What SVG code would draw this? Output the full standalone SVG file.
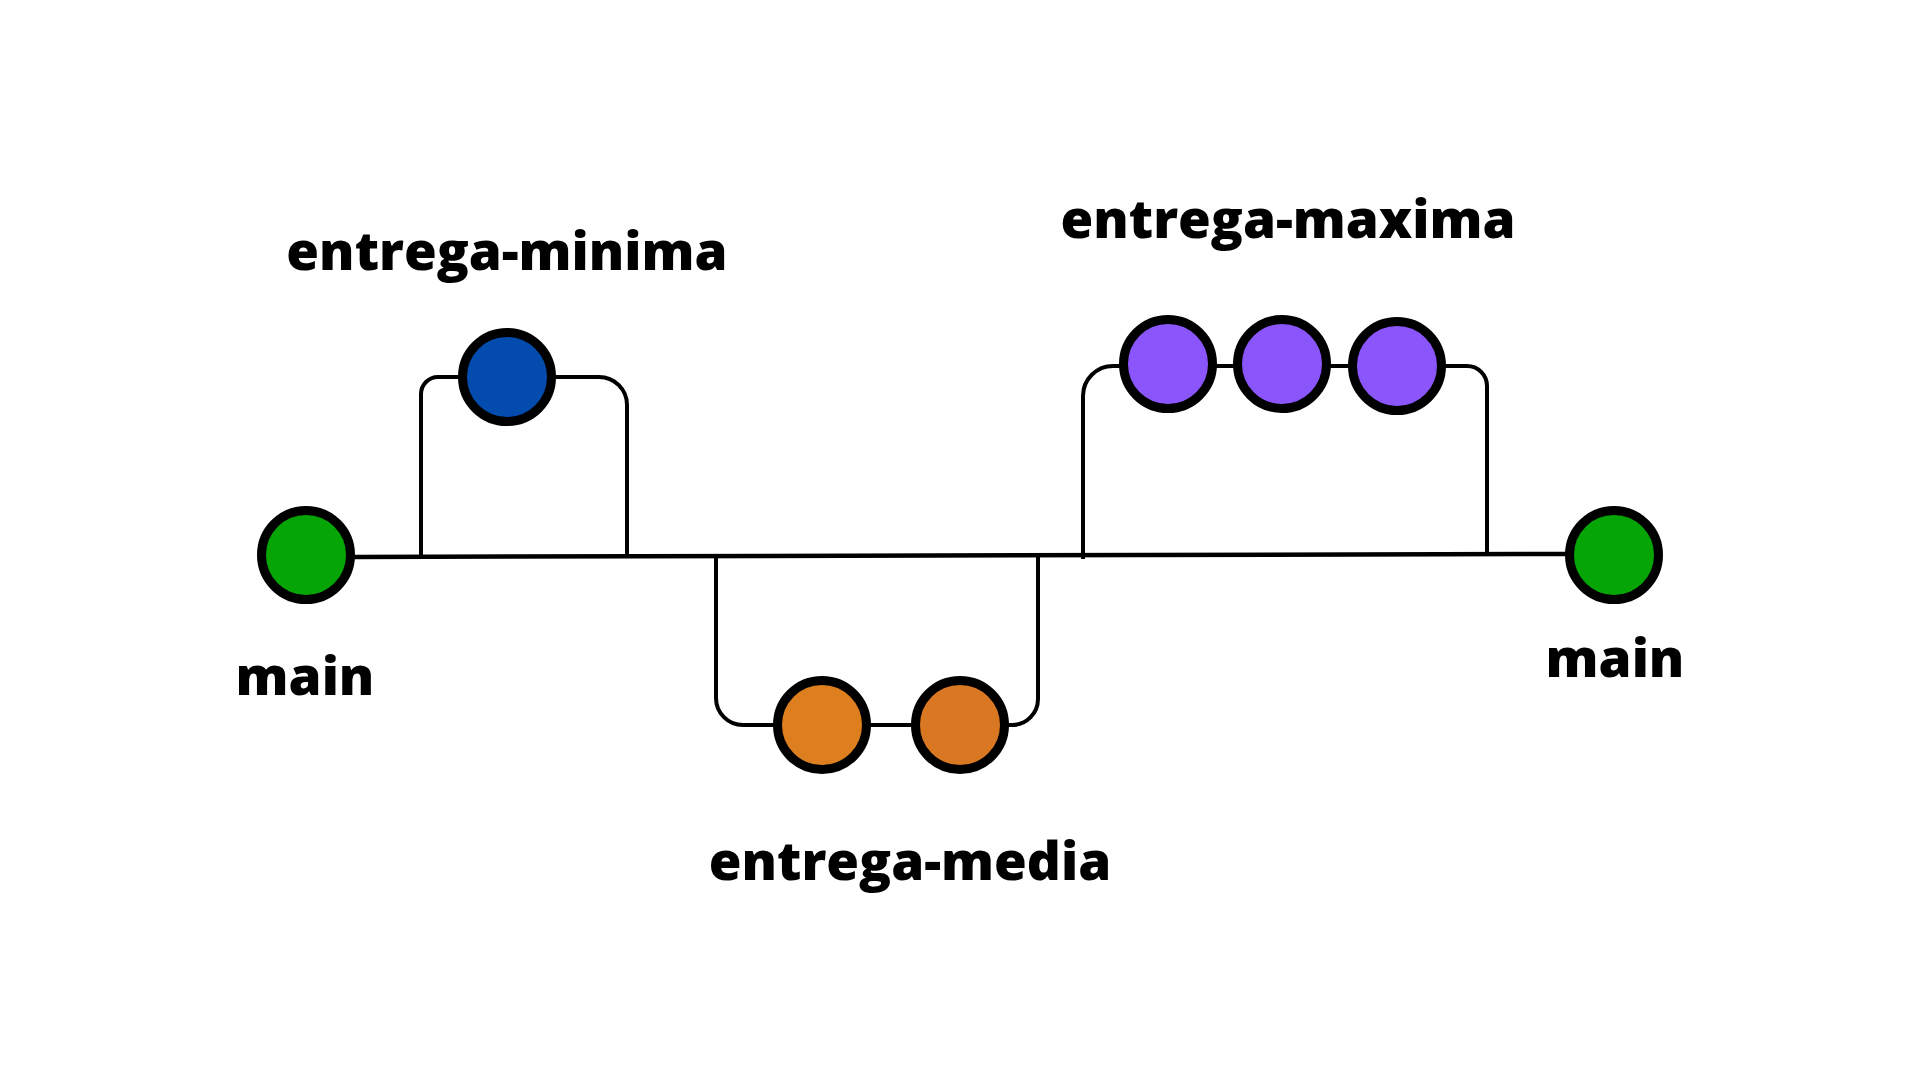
<svg xmlns="http://www.w3.org/2000/svg" width="1920" height="1080" viewBox="0 0 1920 1080">
  <style>
    .lbl { font-family: "Open Sans", "Noto Sans", "Liberation Sans", sans-serif; font-weight: 800; font-size: 53px; fill: #000; text-anchor: middle; }
    .commit { stroke: #000; stroke-width: 9; }
    .main { fill: #06A506; }
    .min { fill: #034BAD; }
    .med1 { fill: #DD7F1F; }
    .med2 { fill: #DA7723; }
    .max { fill: #8B55FC; }
    .wire { fill: none; stroke: #000; stroke-width: 4.5; }
    .branch { fill: none; stroke: #000; stroke-width: 4; }
  </style>
  <rect width="1920" height="1080" fill="#fff"/>
  <g id="connectors">
    <path class="wire" d="M 354 557 L 1566 554"/>
    <path class="branch" d="M 421 557 V 394 A 17 17 0 0 1 438 377 H 599 A 28 28 0 0 1 627 405 V 557"/>
    <path class="branch" d="M 716 557 V 698 A 27 27 0 0 0 743 725 H 1012 A 26 26 0 0 0 1038 699 V 556"/>
    <path class="branch" d="M 1083 559 V 396 A 30 30 0 0 1 1113 366 H 1467 A 20 20 0 0 1 1487 386 V 552"/>
  </g>
  <g id="main-start">
    <circle class="commit main" cx="306" cy="555" r="44.5"/>
    <text class="lbl" x="305" y="695">main</text>
  </g>
  <g id="main-end">
    <circle class="commit main" cx="1614" cy="555" r="44.5"/>
    <text class="lbl" x="1615" y="677">main</text>
  </g>
  <g id="entrega-minima">
    <circle class="commit min" cx="507" cy="377" r="44.5"/>
    <text class="lbl" x="507" y="270">entrega-minima</text>
  </g>
  <g id="entrega-media">
    <circle class="commit med1" cx="822" cy="725" r="44.5"/>
    <circle class="commit med2" cx="960" cy="725" r="44.5"/>
    <text class="lbl" x="910" y="880">entrega-media</text>
  </g>
  <g id="entrega-maxima">
    <circle class="commit max" cx="1168" cy="364" r="44.5"/>
    <circle class="commit max" cx="1282" cy="364" r="44.5"/>
    <circle class="commit max" cx="1397" cy="366" r="44.5"/>
    <text class="lbl" x="1288" y="238">entrega-maxima</text>
  </g>
</svg>
